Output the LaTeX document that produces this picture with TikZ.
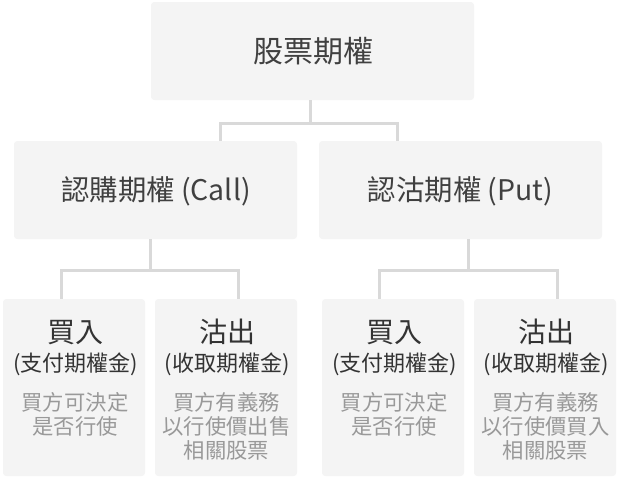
\documentclass[tikz,border=0pt]{standalone}
\usepackage{fontspec}
\setmainfont{Noto Sans CJK TC}
\definecolor{boxfill}{HTML}{F4F4F4}
\definecolor{linec}{HTML}{D9D9D9}
\definecolor{txt}{HTML}{404040}
\definecolor{gtxt}{HTML}{999999}
\begin{document}
\begin{tikzpicture}[x=0.75pt,y=-0.75pt,
  box/.style={fill=boxfill, rounded corners=2.5pt, inner sep=0pt, draw=none},
  lvlbox/.style={box, minimum width=212.25pt, minimum height=73.5pt},
  leafbox/.style={box, minimum width=106.5pt, minimum height=132.75pt},
  conn/.style={draw=linec, line width=2.25pt},
  lbl/.style={anchor=base, inner sep=0pt, text=txt},
  toplbl/.style={lbl, font=\fontsize{22.5pt}{27pt}\selectfont},
  midlbl/.style={lbl, font=\fontsize{21.3pt}{25pt}\selectfont},
  leaftitle/.style={lbl, text=black!80, font=\fontsize{21pt}{25pt}\selectfont},
  leafsub/.style={lbl, text=black!80, font=\fontsize{16.5pt}{20pt}\selectfont},
  leafnote/.style={lbl, text=gtxt, font=\fontsize{16pt}{18pt}\selectfont}]
\useasboundingbox (0,0) rectangle (620,480);
\fill[white] (0,0) rectangle (620,480);

% boxes
\node[box, minimum width=242.25pt, minimum height=73.5pt] (top) at (312.5,51) {};
\node[lvlbox] (call) at (155.5,190) {};
\node[lvlbox] (put) at (460.5,190) {};
\node[leafbox] (b1) at (74,387.5) {};
\node[leafbox] (b2) at (226,387.5) {};
\node[leafbox] (b3) at (393,387.5) {};
\node[leafbox] (b4) at (545,387.5) {};

% connectors
\coordinate (j0) at (310,123); \coordinate (j0l) at (220,123); \coordinate (j0r) at (397,123);
\draw[conn] (top.south -| j0) -- (j0);
\draw[conn] (call.north -| j0l) -- (j0l) -- (j0r) -- (put.north -| j0r);
\coordinate (j1) at (150,270); \coordinate (j1l) at (61,270); \coordinate (j1r) at (238,270);
\draw[conn] (call.south -| j1) -- (j1);
\draw[conn] (b1.north -| j1l) -- (j1l) -- (j1r) -- (b2.north -| j1r);
\coordinate (j2) at (468,270); \coordinate (j2l) at (379,270); \coordinate (j2r) at (557,270);
\draw[conn] (put.south -| j2) -- (j2);
\draw[conn] (b3.north -| j2l) -- (j2l) -- (j2r) -- (b4.north -| j2r);

% texts
\node[toplbl] (toptxt) at (313,62) {股票期權};
\node[midlbl] (calltxt) at (156,200.5) {認購期權 (Call)};
\node[midlbl] (puttxt) at (460.5,200.5) {認沽期權 (Put)};

\node[leaftitle] (b1t) at (75.5,342) {買入};
\node[leafsub] (b1s) at (75.5,371.5) {(支付期權金)};
\node[leafnote] (b1n1) at (75,410) {買方可決定};
\node[leafnote] (b1n2) at (75,434.5) {是否行使};

\node[leaftitle] (b2t) at (227,342) {沽出};
\node[leafsub] (b2s) at (227,371.5) {(收取期權金)};
\node[leafnote] (b2n1) at (226.5,410) {買方有義務};
\node[leafnote] (b2n2) at (226.5,434.5) {以行使價出售};
\node[leafnote] (b2n3) at (226.5,458) {相關股票};

\node[leaftitle] (b3t) at (394.5,342) {買入};
\node[leafsub] (b3s) at (394.5,371.5) {(支付期權金)};
\node[leafnote] (b3n1) at (394,410) {買方可決定};
\node[leafnote] (b3n2) at (394,434.5) {是否行使};

\node[leaftitle] (b4t) at (546,342) {沽出};
\node[leafsub] (b4s) at (546,371.5) {(收取期權金)};
\node[leafnote] (b4n1) at (545.5,410) {買方有義務};
\node[leafnote] (b4n2) at (545.5,434.5) {以行使價買入};
\node[leafnote] (b4n3) at (545.5,458) {相關股票};
\end{tikzpicture}
\end{document}
